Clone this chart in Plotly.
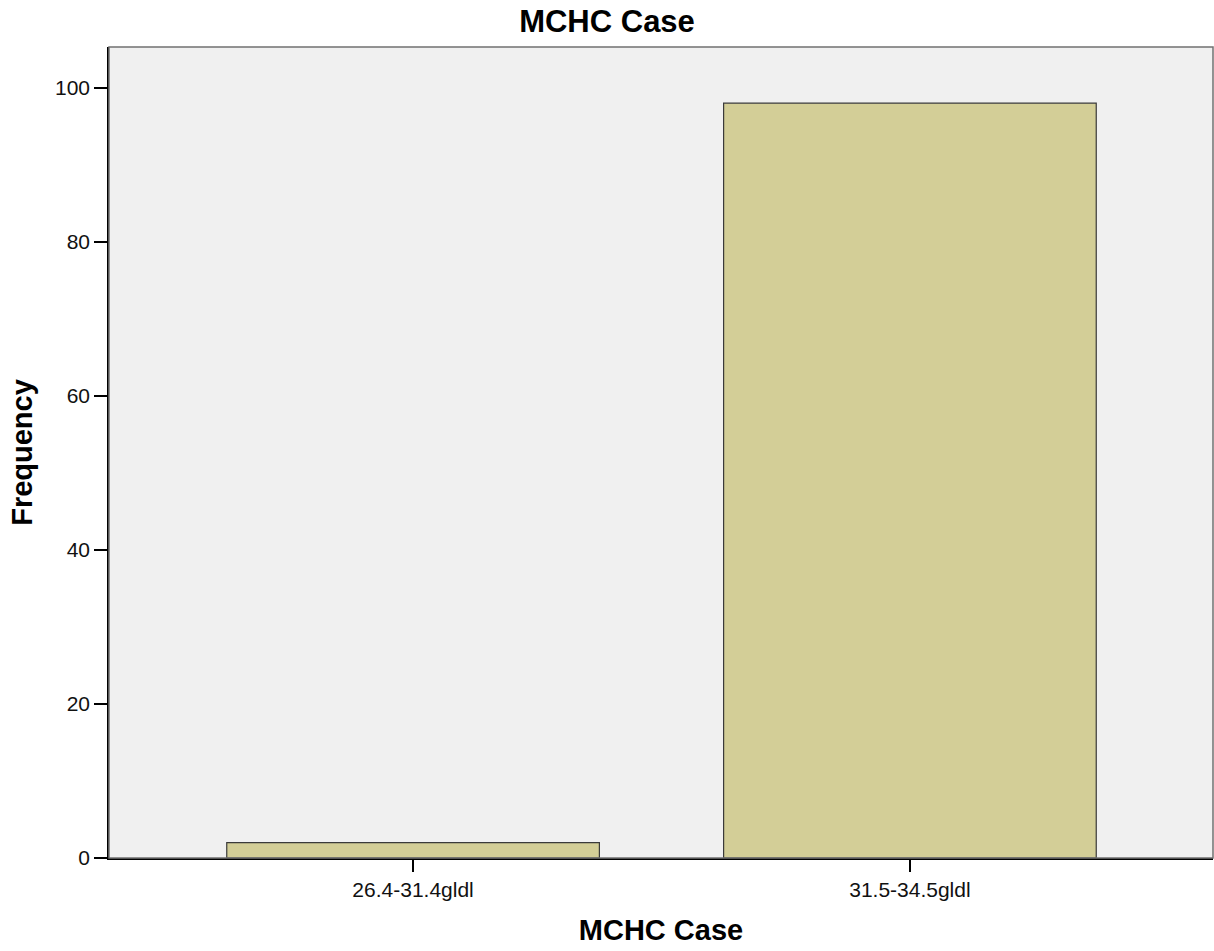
import plotly.graph_objects as go

categories = ["26.4-31.4gldl", "31.5-34.5gldl"]
frequency = [2, 98]
y_ticks = [0, 20, 40, 60, 80, 100]

FONT = "Arial, Liberation Sans, sans-serif"

fig = go.Figure()
fig.add_trace(go.Bar(
    x=categories,
    y=frequency,
    width=0.75,
    marker=dict(color="#D3CE97", line=dict(color="#3A3A3A", width=1.2)),
    hoverinfo="x+y",
))

fig.update_layout(
    width=1214, height=951,
    margin=dict(l=109, r=1, t=47, b=93, autoexpand=False),
    paper_bgcolor="white",
    plot_bgcolor="#F0F0F0",
    showlegend=False,
    font=dict(family=FONT, color="#111111"),
    title=dict(
        text="MCHC Case",
        font=dict(family=FONT, size=31, weight="bold", color="#000000"),
        x=0.5, xref="container", xanchor="center",
        y=1 - 21 / 951, yref="container", yanchor="middle",
    ),
    shapes=[dict(
        type="rect", xref="paper", yref="paper", x0=0, x1=1, y0=0, y1=1,
        line=dict(color="#707070", width=1.5), fillcolor="rgba(0,0,0,0)", layer="above",
    )],
)

fig.update_xaxes(
    type="category",
    range=[-0.612, 1.610],
    showgrid=False, zeroline=False,
    showline=True, linecolor="#000000", linewidth=1.5,
    ticks="outside", ticklen=12, tickwidth=1.5, tickcolor="#000000",
    tickfont=dict(family=FONT, size=21, color="#111111"),
    title=dict(text="MCHC Case", font=dict(family=FONT, size=29, weight="bold", color="#000000"), standoff=20),
    automargin=False,
)
fig.update_yaxes(
    range=[0, 105.3],
    tickvals=y_ticks,
    showgrid=False, zeroline=False,
    showline=True, linecolor="#000000", linewidth=1.5,
    ticks="outside", ticklen=13, tickwidth=1.5, tickcolor="#000000",
    tickfont=dict(family=FONT, size=21, color="#111111"),
    title=dict(text="Frequency", font=dict(family=FONT, size=29, weight="bold", color="#000000"), standoff=14),
    automargin=False,
)

fig.write_html(
    "out.html",
    config={"displayModeBar": False},
    post_script="document.body.style.margin='0';document.body.style.padding='0';",
)
